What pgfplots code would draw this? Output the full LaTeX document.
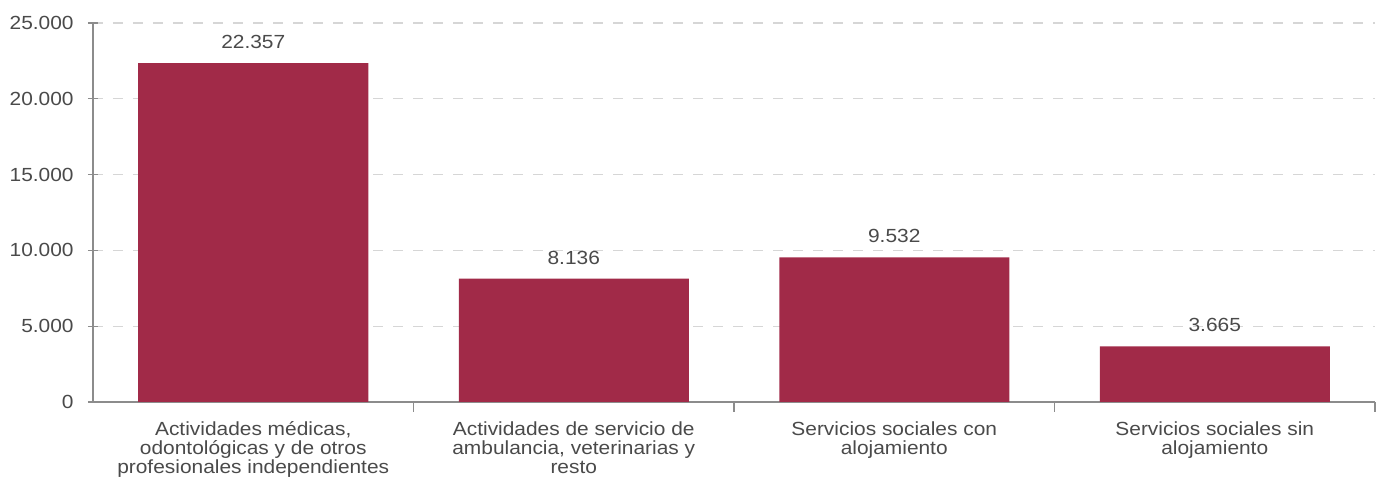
\documentclass[border=0pt]{standalone}
\usepackage{fontspec}
\setmainfont{Liberation Sans}[FakeStretch=1.1]
\usepackage{pgfplots}
\pgfplotsset{compat=1.18}
\definecolor{barc}{HTML}{A12A48}
\definecolor{txt}{HTML}{4A4A4A}
\definecolor{axc}{HTML}{8C8C8C}
\definecolor{gridc}{HTML}{D6D6D6}
\begin{document}
\begin{tikzpicture}
\begin{axis}[
  scale only axis, width=641pt, height=189.5pt,
  xmin=-0.5, xmax=3.5, ymin=0, ymax=25000,
  scaled y ticks=false,
  axis x line=bottom, axis y line=left,
  axis line style={-, draw=axc, line width=0.6pt},
  every tick/.style={draw=axc, line width=0.6pt},
  tick align=center,
  ytick={0,5000,10000,15000,20000,25000},
  ymajorgrids,
  grid style={draw=gridc, dash pattern=on 5pt off 5pt, line width=0.6pt},
  xtick={0,1,2,3},
  x tick style={draw=none},
  xticklabels={{Actividades médicas,\\odontológicas y de otros\\profesionales independientes},
               {Actividades de servicio de\\ambulancia, veterinarias y\\resto},
               {Servicios sociales con\\alojamiento},
               {Servicios sociales sin\\alojamiento}},
  xticklabel style={align=center, text=txt, font=\fontsize{9.5}{9.5}\selectfont, inner sep=0pt, yshift=-7pt},
  extra x ticks={0.5,1.5,2.5,3.5},
  extra x tick labels={},
  extra x tick style={major tick length=5pt, tick align=outside, xmajorgrids=false, x tick style={draw=axc}},
  yticklabel style={text=txt, font=\fontsize{9.5}{9}\selectfont, inner sep=0pt, xshift=-7pt},
  major tick length=5pt,
  /pgf/number format/.cd, 1000 sep={.}, assume math mode=true,
]
\addplot[ybar, bar width=115pt, fill=barc, draw=none,
  nodes near coords,
  every node near coord/.append style={text=txt, font=\fontsize{9.5}{9}\selectfont, inner sep=0pt, yshift=7pt,
    /pgf/number format/.cd, 1000 sep={.}, assume math mode=true}]
  coordinates {(0,22357) (1,8136) (2,9532) (3,3665)};
\end{axis}
\pgfresetboundingbox
\useasboundingbox (-46.5pt,-39.5pt) rectangle (643.5pt,201pt);
\end{tikzpicture}
\end{document}
